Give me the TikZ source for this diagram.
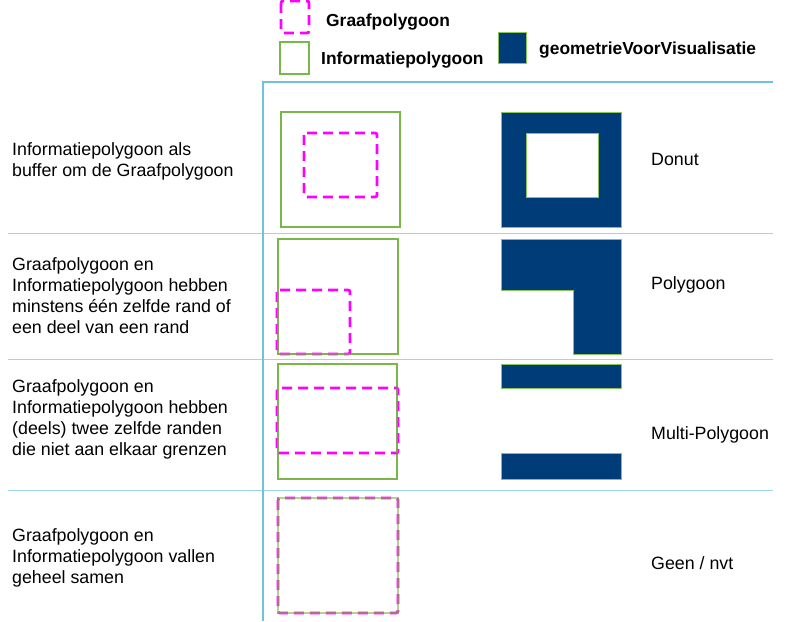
\documentclass[tikz,border=0pt]{standalone}
\usepackage{fontspec}
\setmainfont{Liberation Sans}
\definecolor{igreen}{HTML}{7AB648}
\definecolor{lgreen}{HTML}{8CC45A}
\definecolor{imag}{HTML}{FF00FF}
\definecolor{inavy}{HTML}{003D78}
\definecolor{vblue}{HTML}{6EC3D9}
\definecolor{lblue}{HTML}{9AD8E8}
\begin{document}
\begin{tikzpicture}[x=1pt,y=-1pt,
  info/.style={draw=igreen,line width=1.4pt},
  infotop/.style={draw=igreen,line width=1.4pt,draw opacity=0.6},
  graaf/.style={draw=imag,line width=2.8pt,dash pattern=on 10pt off 6pt,rounded corners=2pt},
  geo/.style={fill=inavy,draw=lgreen,line width=1pt},
  lbl/.style={anchor=base west,font=\fontsize{17.8}{20.7}\selectfont,align=left,inner sep=0pt},
  leg/.style={anchor=base west,font=\bfseries\fontsize{17.4}{20}\selectfont,inner sep=0pt},
  sep/.style={draw=lblue,line width=1pt}]
\useasboundingbox (0,0) rectangle (791,621);
% grid lines
\draw[sep] (8,233) -- (773,233);
\draw[sep] (8,359) -- (773,359);
\draw[sep] (8,490) -- (773,490);
\draw[draw=vblue,line width=1.5pt] (263,621) -- (263,82) -- (773,82);
% legend
\draw[graaf] (281,1) rectangle (309,33);
\node[leg] (lg1) at (326,26) {Graafpolygoon};
\draw[info] (280,42) rectangle (309,74);
\node[leg] (lg2) at (321,64) {Informatiepolygoon};
\draw[geo] (498,32) rectangle (526,63);
\node[leg] (lg3) at (539,54.5) {geometrieVoorVisualisatie};
% row 1
\node[lbl] (t1) at (12,176) {Informatiepolygoon als\\buffer om de Graafpolygoon};
\draw[info] (281,112) rectangle (400,227);
\draw[graaf] (304,133) rectangle (377,197);
\fill[inavy,even odd rule] (501,112) rectangle (621,227) (526,133) rectangle (598,197);
\draw[draw=lgreen,line width=1pt] (501,112) rectangle (621,227) (526,133) rectangle (598,197);
\node[lbl] (r1) at (651,165) {Donut};
% row 2
\node[lbl] (t2) at (12,333) {Graafpolygoon en\\Informatiepolygoon hebben\\minstens één zelfde rand of\\een deel van een rand};
\draw[info] (278,239) rectangle (398,354);
\draw[graaf] (277,290) rectangle (350,354);
\draw[infotop] (278,290) -- (278,354) -- (350,354);
\draw[geo] (501,239) -- (621,239) -- (621,354) -- (573,354) -- (573,290) -- (501,290) -- cycle;
\node[lbl] (r2) at (651,289) {Polygoon};
% row 3
\node[lbl] (t3) at (12,455) {Graafpolygoon en\\Informatiepolygoon hebben\\(deels) twee zelfde randen\\die niet aan elkaar grenzen};
\draw[info] (278,364) rectangle (397,479);
\draw[graaf] (277,388) rectangle (398,453);
\draw[infotop] (278,388) -- (278,453) (397,388) -- (397,453);
\draw[geo] (501,364) rectangle (621,388);
\draw[geo] (501,453) rectangle (621,479);
\node[lbl] (r3) at (651,439) {Multi-Polygoon};
% row 4
\node[lbl] (t4) at (12,583) {Graafpolygoon en\\Informatiepolygoon vallen\\geheel samen};
\draw[graaf] (278,498) rectangle (398,613);
\draw[infotop] (278,498) rectangle (398,613);
\node[lbl] (r4) at (651,569) {Geen / nvt};
\end{tikzpicture}
\end{document}
